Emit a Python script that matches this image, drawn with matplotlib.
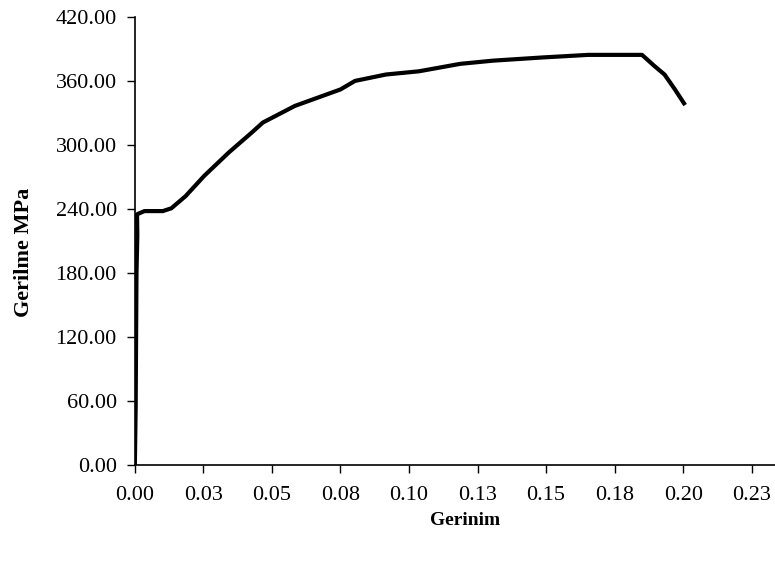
import matplotlib
matplotlib.use("Agg")
import matplotlib.pyplot as plt

# stress-strain curve
strain = [0.0, 0.0003, 0.0006, 0.0009, 0.0008, 0.0035, 0.0102, 0.0133, 0.0185,
          0.0253, 0.0343, 0.0426, 0.0467, 0.0584, 0.0750, 0.0803, 0.0916,
          0.1036, 0.1187, 0.1307, 0.1488, 0.1654, 0.1850, 0.1895, 0.1932,
          0.1970, 0.2003]
stress = [0.0, 55.0, 180.0, 215.0, 235.0, 238.0, 238.0, 240.6, 252.0,
          271.0, 293.0, 311.5, 321.0, 336.6, 352.0, 360.0, 366.0,
          369.0, 376.0, 379.0, 382.0, 384.4, 384.4, 374.0, 366.0,
          352.0, 339.0]

x_ticks = [0.0, 0.025, 0.05, 0.075, 0.10, 0.125, 0.15, 0.175, 0.20, 0.225]
x_labels = ["0.00", "0.03", "0.05", "0.08", "0.10", "0.13", "0.15", "0.18", "0.20", "0.23"]
y_ticks = [0, 60, 120, 180, 240, 300, 360, 420]
y_labels = ["%.2f" % v for v in y_ticks]

plt.rcParams['font.family'] = ['Liberation Serif', 'DejaVu Serif']

fig = plt.figure(figsize=(7.75, 5.63), dpi=100)
ax = fig.add_axes([0.174, 0.174, 0.826, 0.796])

ax.plot(strain, stress, color='black', lw=3.0, solid_joinstyle='round')

ax.set_xlim(0, 0.2335)
ax.set_ylim(0, 420)
ax.set_xticks(x_ticks)
ax.set_xticklabels(x_labels)
ax.set_yticks(y_ticks)
ax.set_yticklabels(y_labels)
ax.tick_params(direction='out', length=6, width=1, labelsize=16, pad=7)
ax.tick_params(axis='x', pad=9)

for side in ['top', 'right']:
    ax.spines[side].set_visible(False)
for side in ['left', 'bottom']:
    ax.spines[side].set_linewidth(1.2)

ax.set_xlabel("Gerinim", fontsize=14, fontweight='bold')
ax.set_ylabel("Gerilme MPa", fontsize=16, fontweight='bold')
ax.xaxis.set_label_coords(0.516, -0.105)
ax.yaxis.set_label_coords(-0.157, 0.475)

fig.savefig("out.png", dpi=100)
